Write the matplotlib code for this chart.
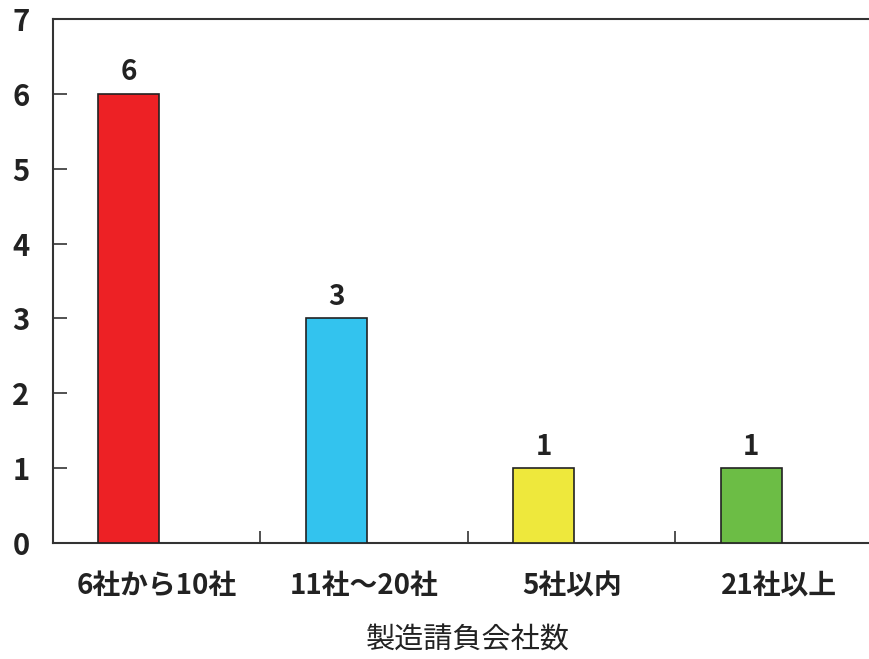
import matplotlib.pyplot as plt
import numpy as np

plt.rcParams['font.family'] = ['Noto Sans CJK JP', 'DejaVu Sans']

# Data
categories = ['6社から10社', '11社～20社', '5社以内', '21社以上']
values = [6, 3, 1, 1]
colors = ['#ED2125', '#33C3EE', '#EEE83C', '#6CBD45']
xlabel = '製造請負会社数'

fig = plt.figure(figsize=(8.69, 6.59), dpi=100)
# the right edge of the plot area is cut off in the reference
ax = fig.add_axes([0.061, 0.176, 0.955, 0.795])

x = np.arange(len(categories))
bars = ax.bar(x - 0.134, values, width=0.294, color=colors,
              edgecolor='#222222', linewidth=1.2, zorder=3)

for b, v in zip(bars, values):
    ax.text(b.get_x() + b.get_width() / 2, v + 0.1, str(v),
            ha='center', va='bottom', fontsize=20, fontweight='bold', color='#222222')

ax.set_xlim(-0.5, len(categories) - 0.5)
ax.set_ylim(0, 7)
ax.set_yticks(range(0, 8))

# boundaries as major ticks, names on minor ticks at slot centres
ax.set_xticks(np.arange(0.5, len(categories) - 0.5, 1.0))
ax.set_xticklabels([])
ax.set_xticks(x, minor=True)
ax.set_xticklabels(categories, minor=True, fontsize=20, fontweight='bold', color='#222222')
ax.tick_params(axis='x', which='major', direction='in', length=9, width=1.2, color='#333333')
ax.tick_params(axis='x', which='minor', length=0, pad=21)
ax.tick_params(axis='y', direction='in', length=10, width=1.2, color='#333333', pad=17,
               labelsize=21)
for lab in ax.get_yticklabels():
    lab.set_fontweight('bold')
    lab.set_color('#222222')

for s in ['left', 'top', 'bottom']:
    ax.spines[s].set_color('#333333')
    ax.spines[s].set_linewidth(1.5)
ax.spines['right'].set_visible(False)

ax.set_xlabel(xlabel, fontsize=21, color='#222222', labelpad=18)

plt.savefig('out.png', dpi=100)
